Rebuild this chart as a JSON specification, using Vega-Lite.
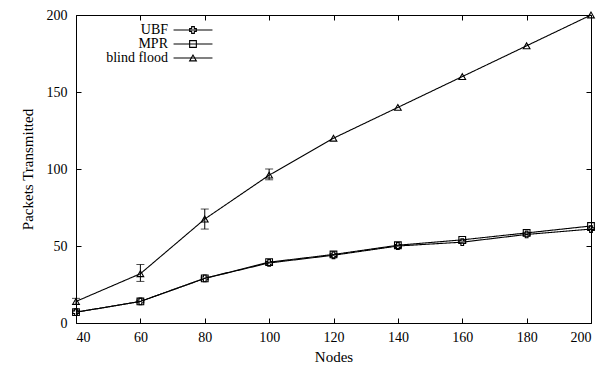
{
  "$schema": "https://vega.github.io/schema/vega-lite/v6.json",
  "width": 515,
  "height": 308,
  "autosize": {"type": "none"},
  "padding": {"left": 76, "top": 15, "right": 17, "bottom": 43},
  "background": "white",
  "config": {
    "view": {"stroke": "black", "strokeWidth": 1},
    "font": "Liberation Serif",
    "axis": {"labelFont": "Liberation Serif", "titleFont": "Liberation Serif", "labelFontSize": 14, "titleFontSize": 15, "titleFontWeight": "normal", "labelColor": "black", "titleColor": "black", "domain": false, "grid": false, "tickColor": "black", "tickWidth": 1, "tickSize": 5, "offset": -5}
  },
  "datasets": {
    "lines": [
      {"Nodes": 40, "series": "UBF", "value": 7},
      {"Nodes": 60, "series": "UBF", "value": 14},
      {"Nodes": 80, "series": "UBF", "value": 29},
      {"Nodes": 100, "series": "UBF", "value": 39},
      {"Nodes": 120, "series": "UBF", "value": 44},
      {"Nodes": 140, "series": "UBF", "value": 50},
      {"Nodes": 160, "series": "UBF", "value": 52.5},
      {"Nodes": 180, "series": "UBF", "value": 57.5},
      {"Nodes": 200, "series": "UBF", "value": 61},
      {"Nodes": 40, "series": "MPR", "value": 7},
      {"Nodes": 60, "series": "MPR", "value": 14},
      {"Nodes": 80, "series": "MPR", "value": 29},
      {"Nodes": 100, "series": "MPR", "value": 39.5},
      {"Nodes": 120, "series": "MPR", "value": 44.5},
      {"Nodes": 140, "series": "MPR", "value": 50.5},
      {"Nodes": 160, "series": "MPR", "value": 54},
      {"Nodes": 180, "series": "MPR", "value": 58.5},
      {"Nodes": 200, "series": "MPR", "value": 63},
      {"Nodes": 40, "series": "blind flood", "value": 14},
      {"Nodes": 60, "series": "blind flood", "value": 32},
      {"Nodes": 80, "series": "blind flood", "value": 67.5},
      {"Nodes": 100, "series": "blind flood", "value": 96},
      {"Nodes": 120, "series": "blind flood", "value": 120},
      {"Nodes": 140, "series": "blind flood", "value": 140},
      {"Nodes": 160, "series": "blind flood", "value": 160},
      {"Nodes": 180, "series": "blind flood", "value": 180},
      {"Nodes": 200, "series": "blind flood", "value": 200}
    ],
    "errors": [
      {"Nodes": 40, "lo": 12, "hi": 16},
      {"Nodes": 60, "lo": 27, "hi": 38},
      {"Nodes": 80, "lo": 61, "hi": 74},
      {"Nodes": 100, "lo": 93, "hi": 100}
    ]
  },
  "resolve": {"axis": {"x": "independent", "y": "independent"}},
  "layer": [
    {
      "data": {"name": "lines"},
      "mark": {"type": "line", "color": "black", "strokeWidth": 1.1},
      "encoding": {
        "x": {"field": "Nodes", "type": "quantitative", "scale": {"domain": [40, 200], "nice": false, "zero": false},
          "axis": {"orient": "bottom", "values": [40, 60, 80, 100, 120, 140, 160, 180, 200], "labelPadding": 7, "title": "Nodes", "titlePadding": 5}},
        "y": {"field": "value", "type": "quantitative", "scale": {"domain": [0, 200], "nice": false},
          "axis": {"orient": "left", "values": [0, 50, 100, 150, 200], "labelPadding": 9, "title": "Packets Transmitted", "titlePadding": 11}},
        "strokeDash": {"field": "series", "type": "nominal",
          "scale": {"range": [[1, 0], [1, 0], [1, 0]]},
          "legend": {"orient": "none", "legendX": 110, "legendY": 8, "title": null, "labelFontSize": 14, "labelFont": "Liberation Serif", "labelExpr": "' '", "labelOpacity": 0, "labelAlign": "right", "labelOffset": -32, "rowPadding": -5, "symbolType": "M-5.8,0H5.8", "symbolSize": 45, "symbolStrokeColor": "black", "symbolStrokeWidth": 1.1, "symbolDash": [1, 0]}}
      }
    },
    {
      "data": {"name": "errors"},
      "mark": {"type": "errorbar", "ticks": {"size": 8, "color": "black"}, "color": "black", "thickness": 1},
      "encoding": {
        "x": {"field": "Nodes", "type": "quantitative", "axis": {"orient": "top", "values": [40, 60, 80, 100, 120, 140, 160, 180, 200], "labels": false, "title": null}},
        "y": {"field": "lo", "type": "quantitative", "axis": {"orient": "right", "values": [0, 50, 100, 150, 200], "labels": false, "title": null}},
        "y2": {"field": "hi"}
      }
    },
    {
      "data": {"name": "lines"},
      "mark": {"type": "point", "filled": false, "color": "black", "size": 45, "strokeWidth": 1.1, "opacity": 1},
      "encoding": {
        "x": {"field": "Nodes", "type": "quantitative", "axis": null},
        "y": {"field": "value", "type": "quantitative", "axis": null},
        "shape": {"field": "series", "type": "nominal",
          "scale": {"domain": ["UBF", "MPR", "blind flood"], "range": ["cross", "square", "triangle-up"]},
          "legend": {"orient": "none", "legendX": 110, "legendY": 8, "title": null, "labelFontSize": 14, "labelFont": "Liberation Serif", "labelColor": "black", "labelAlign": "right", "labelOffset": -32, "rowPadding": -5, "symbolSize": 45, "symbolStrokeColor": "black", "symbolFillColor": "white", "symbolStrokeWidth": 1.1, "labelLimit": 200}}
      }
    }
  ]
}
